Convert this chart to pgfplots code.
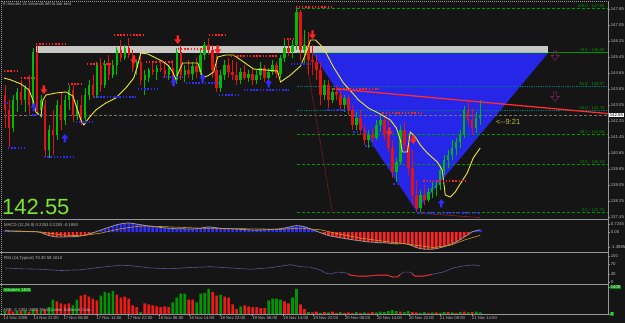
\documentclass[border=0pt]{standalone}
\usepackage{pgfplots}
\pgfplotsset{compat=1.18}
\usepackage{pgfplotstable}
\usepackage{fontspec}
\setmainfont{Liberation Sans}
\definecolor{bg}{RGB}{22,21,21}
\definecolor{cgreen}{RGB}{0,185,0}
\definecolor{cred}{RGB}{225,20,20}
\definecolor{tri}{RGB}{38,38,232}
\definecolor{band}{RGB}{200,200,196}
\definecolor{maline}{RGB}{235,230,50}
\definecolor{dotred}{RGB}{255,35,35}
\definecolor{dotblue}{RGB}{45,45,255}
\definecolor{fibg}{RGB}{0,150,0}
\definecolor{fibt}{RGB}{0,120,120}
\definecolor{limeln}{RGB}{120,230,80}
\definecolor{txtg}{RGB}{185,185,185}
\definecolor{sepg}{RGB}{150,150,150}
\definecolor{bigg}{RGB}{125,230,45}
\definecolor{timer}{RGB}{200,190,70}
\definecolor{trend}{RGB}{255,45,45}
\definecolor{zig}{RGB}{150,25,45}
\definecolor{purp}{RGB}{130,30,90}
\definecolor{orng}{RGB}{215,150,30}
\definecolor{rsic}{RGB}{95,80,145}
\definecolor{volg}{RGB}{0,150,0}
\definecolor{volr}{RGB}{240,25,25}
\definecolor{boxg}{RGB}{0,140,0}
\definecolor{pline}{RGB}{120,115,100}

\pgfdeclareplotmark{dnarr}{%
 \pgfpathmoveto{\pgfqpoint{-1.2pt}{4.5pt}}%
 \pgfpathlineto{\pgfqpoint{1.2pt}{4.5pt}}%
 \pgfpathlineto{\pgfqpoint{1.2pt}{0.5pt}}%
 \pgfpathlineto{\pgfqpoint{3.5pt}{0.5pt}}%
 \pgfpathlineto{\pgfqpoint{0pt}{-4pt}}%
 \pgfpathlineto{\pgfqpoint{-3.5pt}{0.5pt}}%
 \pgfpathlineto{\pgfqpoint{-1.2pt}{0.5pt}}%
 \pgfpathclose\pgfusepathqfill}
\pgfdeclareplotmark{uparr}{%
 \pgfpathmoveto{\pgfqpoint{-1.2pt}{-4.5pt}}%
 \pgfpathlineto{\pgfqpoint{1.2pt}{-4.5pt}}%
 \pgfpathlineto{\pgfqpoint{1.2pt}{-0.5pt}}%
 \pgfpathlineto{\pgfqpoint{3.5pt}{-0.5pt}}%
 \pgfpathlineto{\pgfqpoint{0pt}{4pt}}%
 \pgfpathlineto{\pgfqpoint{-3.5pt}{-0.5pt}}%
 \pgfpathlineto{\pgfqpoint{-1.2pt}{-0.5pt}}%
 \pgfpathclose\pgfusepathqfill}
\pgfdeclareplotmark{dnarrh}{%
 \pgfpathmoveto{\pgfqpoint{-1.5pt}{5pt}}%
 \pgfpathlineto{\pgfqpoint{1.5pt}{5pt}}%
 \pgfpathlineto{\pgfqpoint{1.5pt}{0.5pt}}%
 \pgfpathlineto{\pgfqpoint{4pt}{0.5pt}}%
 \pgfpathlineto{\pgfqpoint{0pt}{-4.5pt}}%
 \pgfpathlineto{\pgfqpoint{-4pt}{0.5pt}}%
 \pgfpathlineto{\pgfqpoint{-1.5pt}{0.5pt}}%
 \pgfpathclose\pgfusepathqstroke}

\pgfplotstableread{
x o h l c
4 143.55 144.05 141.90 142.80
8 142.80 143.30 140.95 141.90
12 141.90 143.55 141.70 143.30
16 143.30 143.90 142.70 143.70
20 143.70 144.30 143.05 143.30
24 143.30 144.05 142.70 143.90
28 143.90 144.55 142.55 143.05
32 143.05 145.90 142.80 145.70
36 145.70 146.05 142.55 142.80
40 142.80 143.55 142.40 143.30
44 143.05 143.30 140.45 140.80
48 140.80 142.05 140.40 141.80
52 141.80 142.80 140.55 141.55
56 141.55 143.30 141.30 143.05
60 143.05 143.70 141.80 142.30
64 142.30 143.55 142.05 143.30
68 143.30 144.05 142.80 143.80
72 143.80 144.05 142.20 142.55
76 142.55 143.30 142.30 143.05
80 143.05 143.55 142.05 142.40
84 142.40 143.90 142.20 143.55
88 143.55 144.30 143.30 144.05
92 144.05 144.55 143.40 143.55
96 143.55 145.20 143.40 145.05
100 145.05 145.40 143.70 144.05
104 144.05 145.30 143.90 145.10
108 145.10 145.55 144.30 144.55
112 144.55 145.30 144.40 145.05
116 145.05 145.95 144.55 145.80
120 145.80 146.30 145.20 145.40
124 145.40 146.05 145.30 145.90
128 145.90 146.40 145.40 145.55
132 145.55 145.80 144.70 144.90
136 144.90 145.30 144.55 145.20
140 145.20 145.55 144.05 144.30
144 144.30 144.80 143.55 144.55
148 144.40 144.90 144.20 144.80
152 144.80 145.20 144.55 144.70
156 144.70 145.05 144.30 144.90
160 144.90 145.30 144.70 144.80
164 144.80 145.20 144.40 144.55
168 144.55 145.05 144.30 144.90
172 144.90 145.30 144.05 144.30
176 144.30 145.90 144.10 145.70
180 145.70 146.05 144.30 144.55
184 144.55 145.05 144.20 144.80
188 144.80 145.30 144.40 144.60
192 144.60 145.20 144.30 145.00
196 145.00 145.40 144.40 144.70
200 144.70 145.80 144.55 145.55
204 145.55 146.20 145.30 146.05
208 146.05 146.40 145.55 145.80
212 145.80 146.05 144.40 144.80
216 144.80 145.55 143.70 143.90
220 143.90 144.80 143.70 144.55
224 144.55 145.30 144.30 145.05
228 145.05 145.40 144.40 144.70
232 144.70 145.30 144.30 144.55
236 144.55 145.20 144.05 144.30
240 144.30 144.90 144.10 144.70
244 144.70 145.05 144.30 144.40
248 144.40 144.80 144.20 144.60
252 144.60 144.90 144.05 144.30
256 144.30 144.80 144.10 144.55
260 144.55 145.20 144.30 144.90
264 144.90 145.05 144.20 144.40
268 144.40 144.90 144.10 144.70
272 144.70 145.30 144.55 145.05
276 145.05 145.20 144.40 144.60
280 144.60 145.55 144.40 145.40
284 145.40 146.30 145.20 145.90
288 145.90 146.40 145.50 145.70
292 145.70 146.30 145.40 146.05
296 146.05 147.90 145.80 147.70
300 147.70 147.80 145.30 145.80
304 145.80 146.80 145.05 146.05
308 146.05 146.70 144.55 145.30
312 145.30 146.05 144.55 145.20
316 145.20 145.55 144.30 144.80
320 144.80 145.20 143.05 143.55
324 143.55 144.30 143.30 144.05
328 144.05 144.30 142.90 143.30
332 143.30 143.90 143.15 143.70
336 143.70 144.05 143.30 143.55
340 143.55 143.80 142.80 143.05
344 143.05 143.55 142.70 143.40
348 143.40 143.55 142.55 142.80
352 142.80 143.05 141.80 142.05
356 142.05 142.70 141.80 142.40
360 142.40 142.80 141.55 141.80
364 141.80 142.05 141.05 141.30
368 141.30 141.80 140.90 141.55
372 141.55 141.90 141.20 141.40
376 141.40 142.30 141.30 142.05
380 142.05 142.55 141.70 142.30
384 142.30 142.55 141.30 141.55
388 141.55 142.30 140.70 140.90
392 140.90 141.30 139.40 139.70
396 139.70 140.40 139.20 140.20
400 140.20 142.05 140.05 141.80
404 141.80 142.20 140.80 141.05
408 141.05 141.55 139.55 139.90
412 139.90 140.80 138.05 138.55
416 138.55 139.30 137.70 137.90
420 137.90 138.80 137.70 138.55
424 138.55 139.05 138.05 138.30
428 138.30 138.90 138.20 138.70
432 138.70 139.20 138.40 138.90
436 138.90 139.20 138.50 139.05
440 139.05 140.05 138.80 139.80
444 139.80 140.55 139.55 140.30
448 140.30 140.80 139.90 140.55
452 140.55 141.30 140.30 140.90
456 140.90 141.40 140.55 141.20
460 141.20 141.80 140.90 141.55
464 141.55 143.00 141.40 142.80
468 142.80 143.20 142.05 142.30
472 142.30 142.90 141.55 141.90
476 141.90 142.70 141.65 142.40
480 142.40 143.30 142.05 142.55
}\candles

\pgfplotstableread{
x v
4 0.12
8 0.10
12 0.10
16 0.08
20 0.08
24 0.06
28 0.04
32 0.06
36 0.03
40 -0.05
44 -0.20
48 -0.32
52 -0.40
56 -0.45
60 -0.45
64 -0.44
68 -0.42
72 -0.42
76 -0.40
80 -0.35
84 -0.28
88 -0.18
92 -0.08
96 0.05
100 0.18
104 0.30
108 0.42
112 0.55
116 0.66
120 0.74
124 0.80
128 0.82
132 0.78
136 0.72
140 0.66
144 0.60
148 0.55
152 0.50
156 0.46
160 0.42
164 0.38
168 0.35
172 0.32
176 0.30
180 0.30
184 0.28
188 0.28
192 0.28
196 0.30
200 0.35
204 0.42
208 0.46
212 0.44
216 0.38
220 0.32
224 0.30
228 0.30
232 0.28
236 0.26
240 0.24
244 0.22
248 0.20
252 0.18
256 0.17
260 0.18
264 0.20
268 0.22
272 0.24
276 0.26
280 0.30
284 0.36
288 0.44
292 0.52
296 0.58
300 0.55
304 0.48
308 0.36
312 0.22
316 0.08
320 -0.06
324 -0.20
328 -0.32
332 -0.40
336 -0.46
340 -0.52
344 -0.58
348 -0.64
352 -0.70
356 -0.75
360 -0.80
364 -0.85
368 -0.90
372 -0.92
376 -0.95
380 -0.97
384 -0.98
388 -1.00
392 -1.05
396 -1.08
400 -1.06
404 -1.05
408 -1.12
412 -1.25
416 -1.40
420 -1.50
424 -1.55
428 -1.56
432 -1.55
436 -1.50
440 -1.42
444 -1.32
448 -1.20
452 -1.05
456 -0.88
460 -0.68
464 -0.45
468 -0.22
472 0.02
476 0.12
480 0.20
}\macd

\pgfplotstableread{
x v d
4 150 1
8 200 0
12 120 0
16 180 1
20 150 0
24 200 1
28 120 0
32 250 1
36 200 0
40 150 1
44 200 0
48 350 1
52 750 1
56 650 0
60 550 0
64 500 0
68 550 0
72 450 1
76 750 1
80 950 0
84 1000 0
88 900 0
92 800 0
96 700 0
100 950 1
104 1150 1
108 1100 1
112 1200 1
116 1000 0
120 850 0
124 900 0
128 800 0
132 450 0
136 350 0
140 100 1
144 550 0
148 500 0
152 450 0
156 400 0
160 350 0
164 400 0
168 350 0
172 600 1
176 850 1
180 1050 1
184 1050 1
188 750 0
192 750 0
196 600 1
200 1050 1
204 1100 1
208 1300 1
212 1150 0
216 950 0
220 1000 1
224 900 0
228 850 0
232 500 0
236 250 0
240 400 1
244 450 0
248 400 0
252 350 0
256 350 0
260 300 0
264 300 0
268 700 1
272 800 1
276 800 1
280 750 1
284 650 0
288 550 0
292 850 1
296 1300 1
300 500 0
304 250 0
308 100 1
312 80 0
316 120 0
320 60 1
324 100 0
328 80 1
332 120 0
336 60 0
340 100 1
344 60 0
348 80 0
352 60 0
356 100 1
360 60 0
364 80 1
368 60 0
372 100 0
376 80 1
380 120 1
384 100 1
388 150 1
392 200 1
396 150 1
400 120 0
404 100 1
408 150 1
412 100 0
416 80 0
420 60 1
424 100 1
428 60 0
432 80 1
436 80 0
440 60 1
444 100 1
448 100 0
452 80 1
456 60 0
460 100 1
464 120 0
468 80 1
472 100 0
476 120 1
480 80 1
}\vol

\pgfplotsset{
  rdot/.style={dotred, line width=1.5pt, dash pattern=on 1.5pt off 1.7pt, forget plot},
  bdot/.style={dotblue, line width=1.5pt, dash pattern=on 1.5pt off 1.7pt, forget plot},
  panel/.style={scale only axis, anchor=south west, width=605pt, xmin=2, xmax=608,
    axis line style={draw=none}, clip=false, xtick=\empty,
    ytick pos=right, yticklabel pos=right, tick align=outside, major tick length=2pt,
    tick style={draw=sepg, line width=0.4pt},
    yticklabel style={font=\fontsize{4.3}{5}\selectfont, text=txtg, inner sep=0.6pt}},
}

\begin{document}
\begin{tikzpicture}
\useasboundingbox (0pt,0pt) rectangle (625pt,323pt);
\fill[bg] (0pt,0pt) rectangle (625pt,323pt);

% ---------------- main price panel
\begin{axis}[panel, at={(3pt,105pt)}, height=215pt, ymin=137.40, ymax=148.15,
  ytick={137.45,138.25,139.05,139.85,140.65,141.45,142.25,143.05,143.85,144.65,145.45,146.25,147.05,147.85},
  yticklabels={137.45,138.25,139.05,139.85,140.65,141.45,142.25,143.05,143.85,144.65,145.45,146.25,147.05,147.85}]
\addplot[fill=tri, draw=none, forget plot] coordinates {(312,145.65) (548,145.65) (416,137.75)} -- cycle;
\addplot[fill=band, draw=none, forget plot] coordinates {(35,146.02) (548,146.02) (548,145.67) (35,145.67)} -- cycle;
\addplot[fibg, densely dashed, line width=0.6pt, forget plot] coordinates {(296,147.90) (608,147.90)};
\addplot[fibg, line width=0.6pt, forget plot] coordinates {(296,145.68) (608,145.68)};
\addplot[limeln, line width=0.9pt, forget plot] coordinates {(296,145.66) (548,145.66)};
\addplot[fibt, densely dotted, line width=0.8pt, forget plot] coordinates {(296,143.97) (608,143.97)};
\addplot[fibt, densely dotted, line width=0.8pt, forget plot] coordinates {(296,142.78) (608,142.78)};
\addplot[fibg, densely dashed, line width=0.6pt, forget plot] coordinates {(296,141.58) (608,141.58)};
\addplot[fibg, densely dashed, line width=0.6pt, forget plot] coordinates {(296,140.10) (608,140.10)};
\addplot[fibg, densely dashed, line width=0.6pt, forget plot] coordinates {(296,137.70) (608,137.70)};
\addplot[pline, densely dashed, line width=0.6pt, forget plot] coordinates {(3,142.52) (608,142.52)};
\addplot[zig, densely dotted, line width=0.9pt, forget plot] coordinates {(297,147.80) (332,137.65)};
\addplot[zig, line width=0.6pt, forget plot] coordinates {(417,137.65) (480,137.42)};
\addplot[draw=none, forget plot, restrict expr to domain={\thisrow{c}-\thisrow{o}}{0:100},
  error bars/.cd, y dir=both, y explicit, error mark=none, error bar style={draw=cgreen, line width=0.7pt}]
  table[x=x, y expr={(\thisrow{h}+\thisrow{l})/2}, y error expr={(\thisrow{h}-\thisrow{l})/2}] {\candles};
\addplot[draw=none, forget plot, restrict expr to domain={\thisrow{c}-\thisrow{o}}{-100:-0.001},
  error bars/.cd, y dir=both, y explicit, error mark=none, error bar style={draw=cred, line width=0.7pt}]
  table[x=x, y expr={(\thisrow{h}+\thisrow{l})/2}, y error expr={(\thisrow{h}-\thisrow{l})/2}] {\candles};
\addplot[draw=none, forget plot, restrict expr to domain={\thisrow{c}-\thisrow{o}}{0:100},
  error bars/.cd, y dir=both, y explicit, error mark=none, error bar style={draw=cgreen, line width=2.4pt}]
  table[x=x, y expr={(\thisrow{o}+\thisrow{c})/2}, y error expr={abs(\thisrow{c}-\thisrow{o})/2}] {\candles};
\addplot[draw=none, forget plot, restrict expr to domain={\thisrow{c}-\thisrow{o}}{-100:-0.001},
  error bars/.cd, y dir=both, y explicit, error mark=none, error bar style={draw=cred, line width=2.4pt}]
  table[x=x, y expr={(\thisrow{o}+\thisrow{c})/2}, y error expr={abs(\thisrow{c}-\thisrow{o})/2}] {\candles};
\addplot[maline, line width=0.9pt, forget plot] coordinates {
(3,144.40)(10,144.30)(20,144.10)(28,143.80)(32,143.30)(35,142.70)(40,142.50)(42,143.30)(45,143.55)(55,143.65)(65,143.70)(72,143.50)(76,142.90)(80,142.30)(83,142.05)(88,142.40)(95,142.80)(105,143.15)(115,143.40)(125,143.90)(133,144.40)(137,145.05)(140,145.65)(147,145.60)(155,145.40)(163,145.20)(168,145.00)(172,144.70)(175,144.35)(178,144.70)(182,145.15)(197,145.15)(202,144.45)(207,144.50)(213,144.70)(217,145.45)(225,145.55)(233,145.55)(243,145.20)(253,144.85)(265,144.80)(277,144.75)(280,144.20)(290,144.55)(300,145.00)(306,145.70)(310,146.30)(315,146.30)(323,145.90)(333,144.95)(343,144.15)(353,143.60)(358,143.30)(368,142.90)(378,142.65)(390,142.30)(396,141.90)(400,141.30)(402,140.70)(407,140.70)(410,141.70)(415,141.45)(420,141.05)(427,140.65)(437,140.20)(442,139.80)(445,138.55)(450,138.45)(455,138.70)(458,138.95)(467,139.65)(473,140.40)(480,140.90)};
\addplot[rdot] coordinates {(3,144.75)(17,144.75)};
\addplot[rdot] coordinates {(20,144.40)(33,144.40)};
\addplot[rdot] coordinates {(35,146.10)(65,146.10)};
\addplot[rdot] coordinates {(67,144.10)(82,144.10)};
\addplot[rdot] coordinates {(86,145.10)(112,145.10)};
\addplot[rdot] coordinates {(113,146.55)(143,146.55)};
\addplot[rdot] coordinates {(145,145.20)(172,145.20)};
\addplot[rdot] coordinates {(177,145.85)(205,145.85)};
\addplot[rdot] coordinates {(208,146.55)(227,146.55)};
\addplot[rdot] coordinates {(230,145.50)(278,145.50)};
\addplot[rdot] coordinates {(283,146.35)(293,146.35)};
\addplot[rdot] coordinates {(295,147.95)(332,147.95)};
\addplot[rdot] coordinates {(333,143.85)(378,143.85)};
\addplot[rdot] coordinates {(382,142.65)(422,142.65)};
\addplot[rdot] coordinates {(423,139.25)(465,139.25)};
\addplot[bdot] coordinates {(3,143.15)(7,143.15)};
\addplot[bdot] coordinates {(7,140.90)(25,140.90)};
\addplot[bdot] coordinates {(28,142.55)(42,142.55)};
\addplot[bdot] coordinates {(43,140.45)(72,140.45)};
\addplot[bdot] coordinates {(75,142.20)(92,142.20)};
\addplot[bdot] coordinates {(93,143.45)(135,143.45)};
\addplot[bdot] coordinates {(137,143.85)(158,143.85)};
\addplot[bdot] coordinates {(162,144.45)(182,144.45)};
\addplot[bdot] coordinates {(185,144.15)(218,144.15)};
\addplot[bdot] coordinates {(218,143.55)(240,143.55)};
\addplot[bdot] coordinates {(243,143.80)(288,143.80)};
\addplot[bdot] coordinates {(290,145.10)(312,145.10)};
\addplot[bdot] coordinates {(327,142.80)(348,142.80)};
\addplot[bdot] coordinates {(353,141.70)(367,141.70)};
\addplot[bdot] coordinates {(365,141.00)(375,141.00)};
\addplot[bdot] coordinates {(393,139.10)(400,139.10)};
\addplot[bdot] coordinates {(417,137.65)(480,137.65)};
\addplot[trend, line width=1.3pt, forget plot] coordinates {(337,143.85) (608,142.62)};
\addplot[only marks, mark=dnarr, color=dotred, fill=dotred, mark options={fill=dotred}, forget plot] coordinates {(43,143.80)(133,145.30)(177,146.30)(217,145.80)(312,146.55)(389,141.70)(413,141.30)};
\addplot[only marks, mark=uparr, color=dotblue, fill=dotblue, mark options={fill=dotblue}, forget plot] coordinates {(33,142.95)(64,141.40)(173,144.20)(202,144.40)(268,144.15)(441,138.15)};
\addplot[only marks, mark=dnarrh, color=purp, mark options={draw=purp, line width=0.6pt}, forget plot] coordinates {(555,145.50)(555,143.45)};
\begin{scope}[every node/.style={font=\fontsize{4.2}{5}\selectfont, text=fibg, anchor=south east, inner sep=0.4pt}]
\node at (axis cs:605,147.90) {100.0 - 147.85};
\node at (axis cs:605,145.68) {78.6 - 145.68};
\node at (axis cs:605,143.97) {61.8 - 143.97};
\node at (axis cs:605,142.78) {50.0 - 142.78};
\node at (axis cs:605,141.58) {38.2 - 141.58};
\node at (axis cs:605,140.10) {23.6 - 140.10};
\node at (axis cs:605,137.70) {0.0 - 137.70};
\end{scope}
\node[fill=white, text=black, font=\fontsize{4.3}{5}\selectfont, anchor=west, inner sep=0.6pt] at (axis cs:609,142.55) {142.55};
\end{axis}

% ---------------- MACD panel
\begin{axis}[panel, at={(3pt,71pt)}, height=31pt, ymin=-1.81, ymax=1.0,
  ytick={-1.3985,0,0.7245}, yticklabels={-1.3985,0.00,0.7245}]
\addplot[ybar, bar width=2.6pt, bar shift=0pt, fill=dotblue, draw=none, forget plot,
  restrict expr to domain={\thisrow{v}}{0:10}] table[x=x, y=v] {\macd};
\addplot[ybar, bar width=2.6pt, bar shift=0pt, fill=dotred, draw=none, forget plot,
  restrict expr to domain={\thisrow{v}}{-10:-0.0001}] table[x=x, y=v] {\macd};
\addplot[sepg, line width=0.8pt, forget plot] table[x=x, y=v] {\macd};
\addplot[orng, line width=0.6pt, forget plot] coordinates {(4,0.10)(40,0.0)(60,-0.25)(80,-0.35)(100,-0.10)(120,0.30)(140,0.55)(160,0.50)(200,0.35)(240,0.30)(280,0.25)(300,0.35)(320,0.20)(340,-0.20)(360,-0.55)(380,-0.80)(400,-1.00)(420,-1.25)(433,-1.40)(450,-1.20)(465,-0.70)(480,-0.30)};
\end{axis}

% ---------------- RSI panel
\begin{axis}[panel, at={(3pt,39pt)}, height=30pt, ymin=-7.8, ymax=109.8,
  ytick={0,30,70,100}, yticklabels={0,30,70,100}]
\addplot[rsic, line width=0.6pt, forget plot] coordinates {(4,55)(20,52)(40,50)(60,45)(80,48)(100,58)(120,66)(130,64)(150,55)(170,52)(190,57)(210,60)(230,55)(250,50)(270,56)(290,68)(300,60)(310,58)(320,47)(325,35)(330,31)(337,39)(347,35)(350,27)(358,23)(367,23)(377,27)(387,27)(392,20)(397,20)(403,39)(410,39)(415,23)(423,23)(433,31)(443,39)(453,55)(463,63)(473,67)(480,63)};
\addplot[dotred, line width=0.8pt, forget plot] coordinates {(348,30)(350,27)(358,23)(367,23)(377,27)(387,27)(392,20)(397,20)(400,30)};
\addplot[dotred, line width=0.8pt, forget plot] coordinates {(412,30)(415,23)(423,23)(431,29)};
\end{axis}

% ---------------- Volume panel
\begin{axis}[panel, at={(3pt,9pt)}, height=28pt, ymin=0, ymax=1450,
  ytick={0,1405}, yticklabels={0,1405},
  yticklabel style={fill=boxg, text=white},
  xtick={3,33,63,96,127,158,189,220,252,283,313,345,377,409,440,472},
  xticklabels={14 Nov 2008,14 Nov 22:00,17 Nov 06:00,17 Nov 14:00,17 Nov 22:00,18 Nov 06:00,18 Nov 14:00,18 Nov 22:00,19 Nov 06:00,19 Nov 14:00,19 Nov 22:00,20 Nov 06:00,20 Nov 14:00,20 Nov 22:00,21 Nov 06:00,21 Nov 14:00},
  xtick pos=bottom,
  xticklabel style={font=\fontsize{4.2}{5}\selectfont, text=txtg, anchor=north west, inner sep=0.5pt, xshift=-1pt}]
\addplot[ybar, bar width=2.6pt, bar shift=0pt, fill=volg, draw=none, forget plot,
  restrict expr to domain={\thisrow{d}}{0.5:1.5}] table[x=x, y=v] {\vol};
\addplot[ybar, bar width=2.6pt, bar shift=0pt, fill=volr, draw=none, forget plot,
  restrict expr to domain={\thisrow{d}}{-0.5:0.5}] table[x=x, y=v] {\vol};
\end{axis}

% ---------------- frame and separators
\draw[sepg, line width=1.4pt] (0pt,103.5pt) -- (608.5pt,103.5pt);
\draw[sepg, line width=1.4pt] (0pt,70.3pt) -- (608.5pt,70.3pt);
\draw[sepg, line width=1.4pt] (0pt,38.3pt) -- (608.5pt,38.3pt);
\draw[sepg, line width=0.6pt] (0pt,8.6pt) -- (608.5pt,8.6pt);
\draw[sepg, line width=0.7pt] (608.5pt,8.6pt) -- (608.5pt,322pt);
\draw[sepg, line width=0.5pt, dash pattern=on 1pt off 1pt] (1pt,8.6pt) -- (1pt,322pt) -- (608.5pt,322pt);

% ---------------- texts
\node[font=\fontsize{4.2}{5}\selectfont, text=txtg, anchor=west, inner sep=0pt] at (3pt,318.5pt) {9 minutes 21 seconds left to bar end};
\node[font=\fontsize{22}{24}\selectfont, text=bigg, anchor=base west, inner sep=0pt] at (2pt,108pt) {142.55};
\node[font=\fontsize{7.5}{8}\selectfont, text=timer, anchor=west, inner sep=0pt] at (496pt,201pt) {<-{}-9:21};
\node[font=\fontsize{4.2}{5}\selectfont, text=txtg, anchor=west, inner sep=0pt] at (4pt,98pt) {MACD (12,26,9) 0.2253 0.2253 -0.1950};
\node[font=\fontsize{4.2}{5}\selectfont, text=txtg, anchor=west, inner sep=0pt] at (4pt,65pt) {RSI (14,Typical) 70.30 59.1010};
\node[font=\fontsize{4.2}{5}\selectfont, text=white, fill=boxg, anchor=west, inner sep=0.6pt] at (3pt,33pt) {Volumes 1405};
\node[font=\fontsize{4.2}{5}\selectfont, text=txtg, anchor=west, inner sep=0pt] at (3pt,13pt) {APR, © 2001-2008 MetaQuotes Software Corp.};
\end{tikzpicture}
\end{document}
